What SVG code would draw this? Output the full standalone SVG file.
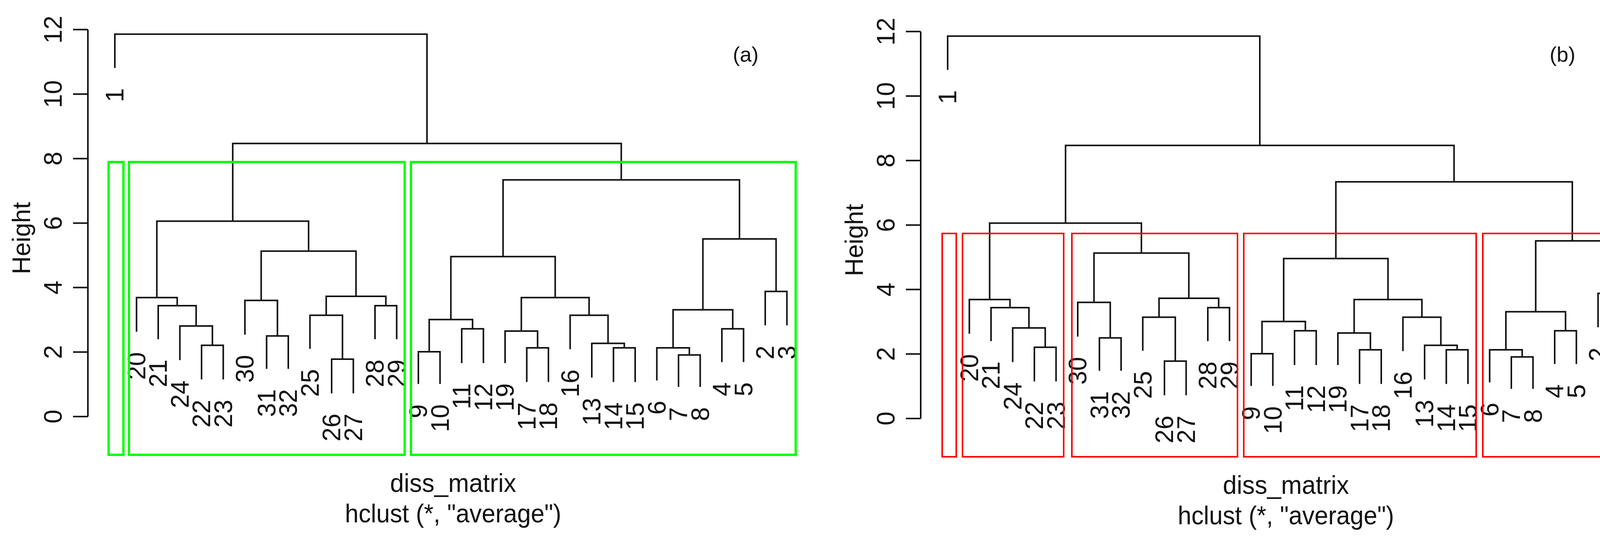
<svg xmlns="http://www.w3.org/2000/svg" xmlns:xlink="http://www.w3.org/1999/xlink" width="4206" height="1396" viewBox="0 0 4206 1396">
<style>
.br{fill:none;stroke:#111;stroke-width:4}
.ax{fill:none;stroke:#111;stroke-width:4}
.lbl{font-family:"Liberation Sans",Arial,sans-serif;font-size:64px;fill:#111;text-anchor:end}
.tk{font-family:"Liberation Sans",Arial,sans-serif;font-size:64px;fill:#111;text-anchor:middle}
.ttl{font-family:"Liberation Sans",Arial,sans-serif;font-size:66px;fill:#111;text-anchor:middle}
.pn{font-family:"Liberation Sans",Arial,sans-serif;font-size:54px;fill:#111;text-anchor:middle}
.gb{fill:none;stroke:#00ff00;stroke-width:6}
.rb{fill:none;stroke:#ff0000;stroke-width:4}
</style>
<defs>
<g id="plot">
<g id="axis">
<path class="ax" d="M225,76 V1067 M187,1067 H225 M187,901.8 H225 M187,736.6 H225 M187,571.4 H225 M187,406.2 H225 M187,241 H225 M187,75.8 H225"/>
<text class="tk" transform="translate(158,1067) rotate(-90)">0</text>
<text class="tk" transform="translate(158,901.8) rotate(-90)">2</text>
<text class="tk" transform="translate(158,736.6) rotate(-90)">4</text>
<text class="tk" transform="translate(158,571.4) rotate(-90)">6</text>
<text class="tk" transform="translate(158,406.2) rotate(-90)">8</text>
<text class="tk" transform="translate(158,241) rotate(-90)">10</text>
<text class="tk" transform="translate(158,75.8) rotate(-90)">12</text>
<text class="tk" transform="translate(77,610) rotate(-90)">Height</text>
</g>
<g id="tree">
<path class="br" d="M516,972 V884.5 H571.5 V972 M460.5,922.4 V834.9 H543.75 V884.5 M405,868.8 V782.9 H502.1 V834.9 M349.5,849.8 V762.2 H453.6 V782.9 M682.5,944.8 V860.5 H738 V944.8 M627,857.2 V769.6 H710.25 V860.5 M849,1007.5 V920 H904.5 V1007.5 M793.5,893.5 V807.6 H876.75 V920 M960,868.8 V782.9 H1015.5 V868.8 M835.1,807.6 V758.9 H987.75 V782.9 M668.6,769.6 V643.3 H911.4 V758.9 M401.5,762.2 V566.4 H790 V643.3 M1071,983.6 V901 H1126.5 V983.6 M1182,929.9 V842.3 H1237.5 V929.9 M1098.75,901 V818.4 H1209.75 V842.3 M1348.5,978.6 V891.1 H1404 V978.6 M1293,929.9 V848.1 H1376.25 V891.1 M1570.5,978.6 V891.1 H1626 V978.6 M1515,967 V879.5 H1598.25 V891.1 M1459.5,894.4 V807.6 H1556.6 V879.5 M1334.6,848.1 V762.2 H1508.1 V807.6 M1154.25,818.4 V657.3 H1421.3 V762.2 M1737,991 V909.2 H1792.5 V991 M1681.5,974.5 V891.1 H1764.75 V909.2 M1848,927.4 V842.3 H1903.5 V927.4 M1723.1,891.1 V793.6 H1875.75 V842.3 M1959,833.2 V746.5 H2014.5 V833.2 M1799.4,793.6 V611.9 H1986.75 V746.5 M1287.8,657.3 V460.7 H1893.1 V611.9 M595.8,566.4 V367.4 H1590.4 V460.7 M294,174 V87.4 H1093.1 V367.4"/>
<text class="lbl" transform="translate(316,226) rotate(-90)">1</text>
<text class="lbl" transform="translate(371.5,901.8) rotate(-90)">20</text>
<text class="lbl" transform="translate(427,920.8) rotate(-90)">21</text>
<text class="lbl" transform="translate(482.5,974.4) rotate(-90)">24</text>
<text class="lbl" transform="translate(538,1024) rotate(-90)">22</text>
<text class="lbl" transform="translate(593.5,1024) rotate(-90)">23</text>
<text class="lbl" transform="translate(649,909.2) rotate(-90)">30</text>
<text class="lbl" transform="translate(704.5,996.8) rotate(-90)">31</text>
<text class="lbl" transform="translate(760,996.8) rotate(-90)">32</text>
<text class="lbl" transform="translate(815.5,945.5) rotate(-90)">25</text>
<text class="lbl" transform="translate(871,1059.5) rotate(-90)">26</text>
<text class="lbl" transform="translate(926.5,1059.5) rotate(-90)">27</text>
<text class="lbl" transform="translate(982,920.8) rotate(-90)">28</text>
<text class="lbl" transform="translate(1037.5,920.8) rotate(-90)">29</text>
<text class="lbl" transform="translate(1093,1035.6) rotate(-90)">9</text>
<text class="lbl" transform="translate(1148.5,1035.6) rotate(-90)">10</text>
<text class="lbl" transform="translate(1204,981.9) rotate(-90)">11</text>
<text class="lbl" transform="translate(1259.5,981.9) rotate(-90)">12</text>
<text class="lbl" transform="translate(1315,981.9) rotate(-90)">19</text>
<text class="lbl" transform="translate(1370.5,1030.6) rotate(-90)">17</text>
<text class="lbl" transform="translate(1426,1030.6) rotate(-90)">18</text>
<text class="lbl" transform="translate(1481.5,946.4) rotate(-90)">16</text>
<text class="lbl" transform="translate(1537,1019) rotate(-90)">13</text>
<text class="lbl" transform="translate(1592.5,1030.6) rotate(-90)">14</text>
<text class="lbl" transform="translate(1648,1030.6) rotate(-90)">15</text>
<text class="lbl" transform="translate(1703.5,1026.5) rotate(-90)">6</text>
<text class="lbl" transform="translate(1759,1043) rotate(-90)">7</text>
<text class="lbl" transform="translate(1814.5,1043) rotate(-90)">8</text>
<text class="lbl" transform="translate(1870,979.4) rotate(-90)">4</text>
<text class="lbl" transform="translate(1925.5,979.4) rotate(-90)">5</text>
<text class="lbl" transform="translate(1981,885.2) rotate(-90)">2</text>
<text class="lbl" transform="translate(2036.5,885.2) rotate(-90)">3</text>
</g>
<text class="ttl" x="1160" y="1260" textLength="323" lengthAdjust="spacingAndGlyphs">diss_matrix</text>
<text class="ttl" x="1160" y="1338" textLength="554" lengthAdjust="spacingAndGlyphs">hclust (*, "average")</text>
</g>
</defs>
<g id="panel-a">
<use xlink:href="#plot"/>
<text class="pn" x="1909" y="158">(a)</text>
<g id="boxes-a">
<rect class="gb" x="278" y="415" width="38" height="750"/>
<rect class="gb" x="330" y="415" width="706" height="750"/>
<rect class="gb" x="1052" y="415" width="985" height="750"/>
</g>
</g>
<g id="panel-b" transform="translate(2132,5)">
<use xlink:href="#plot"/>
<text class="pn" x="1868" y="153">(b)</text>
<g id="boxes-b">
<rect class="rb" x="280" y="593" width="36" height="572"/>
<rect class="rb" x="332" y="593" width="259" height="572"/>
<rect class="rb" x="612" y="593" width="424" height="572"/>
<rect class="rb" x="1052" y="593" width="595" height="572"/>
<rect class="rb" x="1664" y="593" width="376" height="572"/>
</g>
</g>
</svg>
